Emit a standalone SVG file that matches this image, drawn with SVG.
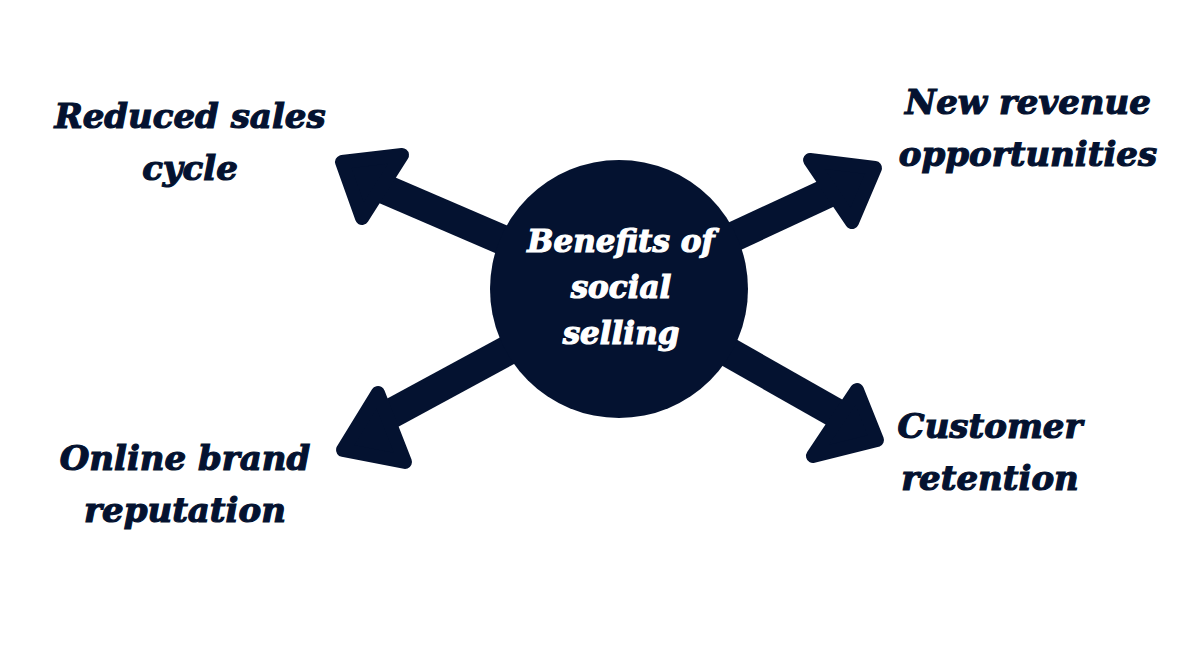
<svg xmlns="http://www.w3.org/2000/svg" width="1200" height="646" viewBox="0 0 1200 646">
<style>
.sh{stroke:#041230;stroke-width:30;stroke-linecap:butt}
.hd{fill:#041230;stroke:#041230;stroke-width:14;stroke-linejoin:round}
.t{font-family:"DejaVu Serif",serif;font-weight:bold;font-style:italic;font-size:34px;fill:#041230;stroke:#041230;stroke-width:1.2;text-anchor:middle}
.w{fill:#ffffff;stroke:#ffffff;font-size:31px}
</style>
<rect width="1200" height="646" fill="#ffffff"/>
<g id="connectors">
<line class="sh" x1="619" y1="290" x2="375" y2="185"/>
<polygon class="hd" points="342,162 402,155 362,218"/>
<line class="sh" x1="619" y1="290" x2="845" y2="185"/>
<polygon class="hd" points="810,160 875,168 852,222"/>
<line class="sh" x1="619" y1="290" x2="370" y2="425"/>
<polygon class="hd" points="343,450 378,393 405,462"/>
<line class="sh" x1="619" y1="290" x2="848" y2="420"/>
<polygon class="hd" points="857,390 877,440 813,456"/>
</g>
<g id="center">
<circle cx="619" cy="289" r="129" fill="#041230"/>
<text class="t w" x="621" y="252">Benefits of</text>
<text class="t w" x="621" y="298">social</text>
<text class="t w" x="621" y="344">selling</text>
</g>
<g id="n1"><text class="t" x="190" y="128">Reduced sales</text><text class="t" x="190" y="180">cycle</text></g>
<g id="n2"><text class="t" x="1028" y="114">New revenue</text><text class="t" x="1028" y="166">opportunities</text></g>
<g id="n3"><text class="t" x="185" y="470">Online brand</text><text class="t" x="185" y="522">reputation</text></g>
<g id="n4"><text class="t" x="990" y="438">Customer</text><text class="t" x="990" y="490">retention</text></g>
</svg>
